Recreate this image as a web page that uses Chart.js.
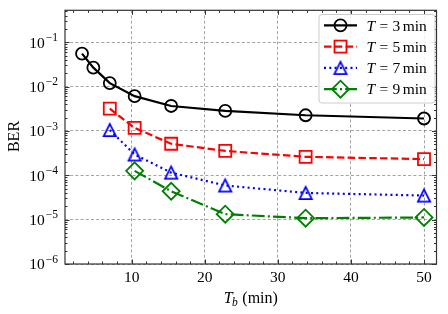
<!DOCTYPE html>
<html>
<head>
<meta charset="utf-8">
<script src="https://cdn.jsdelivr.net/npm/chart.js@4/dist/chart.umd.min.js"></script>
<style>
html,body{margin:0;padding:0;background:#fff;}
#wrap{width:448px;height:314px;position:relative;}
</style>
</head>
<body>
<div id="wrap"><canvas id="c" width="448" height="314"></canvas></div>
<script>
// ---- data ----
const tb = [3.2, 4.75, 7.0, 10.4, 15.4, 22.8, 33.8, 50];
const berT3 = [0.0556, 0.0268, 0.0120, 0.0061, 0.00366, 0.00283, 0.00226, 0.00191];
const berT5 = [null, null, 0.00318, 0.00117, 0.000515, 0.000355, 0.000261, 0.000232];
const berT7 = [null, null, 0.00105, 0.000295, 0.000115, 0.000059, 0.000040, 0.000035];
const berT9 = [null, null, null, 0.000126, 0.0000437, 0.0000133, 0.0000108, 0.0000112];
const seriesLabels = ['3', '5', '7', '9'];
const xTickValues = [10, 20, 30, 40, 50];
const yTickExps = [-6, -5, -4, -3, -2, -1];

const FONT = '"Liberation Serif", "Times New Roman", serif';

function pts(ys) {
  const out = [];
  ys.forEach((y, i) => { if (y !== null) out.push({x: tb[i], y: y}); });
  return out;
}

// matplotlib-like triangle marker
function triCanvas(color) {
  const c = document.createElement('canvas');
  c.width = 18; c.height = 18;
  const g = c.getContext('2d');
  const h = 6.1;
  g.strokeStyle = color; g.lineWidth = 1.8; g.lineJoin = 'miter';
  g.beginPath();
  g.moveTo(9, 9 - h); g.lineTo(9 - h, 9 + h); g.lineTo(9 + h, 9 + h); g.closePath();
  g.stroke();
  return c;
}
const triBlue = triCanvas('#0000ff');

const styles = [
  {color: '#000000', dash: [], point: 'circle', radius: 6},
  {color: '#ff0000', dash: [7.5, 3.3], point: 'rect', radius: 8.5},
  {color: '#0000ff', dash: [2, 3.3], point: triBlue, radius: 6},
  {color: '#008000', dash: [12.8, 3.2, 2, 3.2], point: 'rectRot', radius: 8.5}
];
const allSeries = [berT3, berT5, berT7, berT9];

const datasets = allSeries.map((s, i) => ({
  label: 'T = ' + seriesLabels[i] + ' min',
  data: pts(s),
  borderColor: styles[i].color,
  borderWidth: 2.2,
  borderDash: styles[i].dash,
  borderCapStyle: 'butt',
  pointStyle: styles[i].point,
  pointRadius: styles[i].radius,
  pointHoverRadius: styles[i].radius,
  pointBorderWidth: 1.8,
  pointBorderColor: styles[i].color,
  pointBackgroundColor: 'rgba(0,0,0,0)',
  fill: false,
  tension: 0,
  order: 4 - i
}));

const decor = {
  id: 'decor',
  afterDraw(chart) {
    const ctx = chart.ctx;
    const xs = chart.scales.x, ys = chart.scales.y;
    const a = chart.chartArea;
    ctx.save();
    // ticks inward
    ctx.strokeStyle = '#333';
    ctx.lineWidth = 1;
    ctx.beginPath();
    for (let v = 2; v <= 51; v += 2) {
      const px = Math.round(xs.getPixelForValue(v)) + 0.5;
      const len = (v % 10 === 0) ? 4.5 : 2.5;
      ctx.moveTo(px, a.bottom); ctx.lineTo(px, a.bottom - len);
      ctx.moveTo(px, a.top); ctx.lineTo(px, a.top + len);
    }
    for (let e = -6; e <= 0; e++) {
      for (let m = 1; m <= 9; m++) {
        const v = m * Math.pow(10, e);
        if (v < ys.min * 0.999 || v > ys.max) continue;
        const py = Math.round(ys.getPixelForValue(v)) + 0.5;
        const len = (m === 1) ? 4.5 : 2.5;
        ctx.moveTo(a.left, py); ctx.lineTo(a.left + len, py);
        ctx.moveTo(a.right, py); ctx.lineTo(a.right - len, py);
      }
    }
    ctx.stroke();
    // frame
    ctx.lineWidth = 1.2;
    ctx.strokeRect(a.left, a.top, a.right - a.left, a.bottom - a.top);

    // y tick labels 10^n
    ctx.fillStyle = '#000';
    ctx.textBaseline = 'alphabetic';
    ctx.textAlign = 'left';
    yTickExps.forEach(e => {
      const py = ys.getPixelForValue(Math.pow(10, e));
      const sup = '\u2212' + Math.abs(e);
      ctx.font = '11.5px ' + FONT;
      const sw = ctx.measureText(sup).width;
      ctx.font = '15.5px ' + FONT;
      const bw = ctx.measureText('10').width;
      const xEnd = 58;
      ctx.fillText('10', xEnd - sw - bw - 1, py + 5.3);
      ctx.font = '11.5px ' + FONT;
      ctx.fillText(sup, xEnd - sw, py - 1.3);
    });

    // y axis title
    ctx.save();
    ctx.translate(18.5, 136.5);
    ctx.rotate(-Math.PI / 2);
    ctx.textAlign = 'center';
    ctx.font = '16px ' + FONT;
    ctx.fillText('BER', 0, 0);
    ctx.restore();

    // x axis title: T_b (min)
    {
      ctx.textAlign = 'left';
      const base = 302.5;
      ctx.font = 'italic 16px ' + FONT;
      const tW = ctx.measureText('T').width;
      ctx.font = 'italic 11.5px ' + FONT;
      const bW = ctx.measureText('b').width;
      ctx.font = '16px ' + FONT;
      const rest = '(min)';
      const rW = ctx.measureText(rest).width;
      const gap = 4;
      const total = tW + bW + gap + rW;
      let x0 = (a.left + a.right) / 2 - total / 2;
      ctx.font = 'italic 16px ' + FONT;
      ctx.fillText('T', x0, base);
      ctx.font = 'italic 11.5px ' + FONT;
      ctx.fillText('b', x0 + tW - 0.5, base + 3);
      ctx.font = '16px ' + FONT;
      ctx.fillText(rest, x0 + tW + bW + gap, base);
    }

    // legend
    const lx = 319, ly = 14.5, lw = 116, lh = 88.5, r = 3;
    ctx.beginPath();
    ctx.moveTo(lx + r, ly);
    ctx.lineTo(lx + lw - r, ly); ctx.arcTo(lx + lw, ly, lx + lw, ly + r, r);
    ctx.lineTo(lx + lw, ly + lh - r); ctx.arcTo(lx + lw, ly + lh, lx + lw - r, ly + lh, r);
    ctx.lineTo(lx + r, ly + lh); ctx.arcTo(lx, ly + lh, lx, ly + lh - r, r);
    ctx.lineTo(lx, ly + r); ctx.arcTo(lx, ly, lx + r, ly, r);
    ctx.closePath();
    ctx.fillStyle = 'rgba(255,255,255,0.85)';
    ctx.fill();
    ctx.strokeStyle = '#cccccc';
    ctx.lineWidth = 1;
    ctx.stroke();

    const rowY = [25.3, 46.6, 67.9, 89.2];
    styles.forEach((s, i) => {
      const y = rowY[i];
      ctx.strokeStyle = s.color;
      ctx.lineWidth = 2.2;
      ctx.setLineDash(s.dash);
      ctx.lineCap = 'butt';
      ctx.beginPath(); ctx.moveTo(324, y); ctx.lineTo(357, y); ctx.stroke();
      ctx.setLineDash([]);
      ctx.lineWidth = 1.8;
      const cx = 340.5;
      ctx.beginPath();
      if (s.point === 'circle') {
        ctx.arc(cx, y, 6, 0, Math.PI * 2); ctx.stroke();
      } else if (s.point === 'rect') {
        ctx.strokeRect(cx - 6, y - 6, 12, 12);
      } else if (s.point === 'rectRot') {
        ctx.moveTo(cx - 8.5, y); ctx.lineTo(cx, y - 8.5); ctx.lineTo(cx + 8.5, y); ctx.lineTo(cx, y + 8.5); ctx.closePath(); ctx.stroke();
      } else {
        ctx.drawImage(s.point, cx - 9, y - 9);
      }
      // text
      ctx.fillStyle = '#000';
      ctx.textBaseline = 'alphabetic';
      let tx = 366.5;
      const base = y + 5.2;
      ctx.font = 'italic 15.5px ' + FONT;
      ctx.fillText('T', tx, base);
      tx += ctx.measureText('T').width + 4.3;
      ctx.font = '15.5px ' + FONT;
      ctx.fillText('=', tx, base);
      tx += ctx.measureText('=').width + 4.3;
      ctx.fillText(seriesLabels[i], tx, base);
      tx += ctx.measureText(seriesLabels[i]).width + 2.5;
      ctx.fillText('min', tx, base);
    });
    ctx.restore();
  }
};

new Chart(document.getElementById('c'), {
  type: 'line',
  data: {datasets},
  options: {
    responsive: false,
    animation: false,
    events: [],
    layout: {padding: {top: 6, right: 11.5, left: 0, bottom: 0}},
    plugins: {legend: {display: false}, tooltip: {enabled: false}},
    scales: {
      x: {
        type: 'linear',
        min: 0.87, max: 51.71,
        afterBuildTicks: s => { s.ticks = xTickValues.map(v => ({value: v})); },
        afterFit: s => { s.height = 50; },
        grid: {color: 'rgba(110,110,110,0.8)', lineWidth: 0.8, drawTicks: false},
        border: {display: false, dash: [3, 2.2]},
        ticks: {color: '#000', padding: 5, font: {family: FONT, size: 15.5}, maxRotation: 0}
      },
      y: {
        type: 'logarithmic',
        min: 1e-6, max: 0.526,
        afterBuildTicks: s => { s.ticks = yTickExps.map(e => ({value: Math.pow(10, e)})); },
        afterFit: s => { s.width = 65; },
        grid: {color: 'rgba(110,110,110,0.8)', lineWidth: 0.8, drawTicks: false},
        border: {display: false, dash: [3, 2.2]},
        ticks: {display: false}
      }
    }
  },
  plugins: [decor]
});
</script>
</body>
</html>
